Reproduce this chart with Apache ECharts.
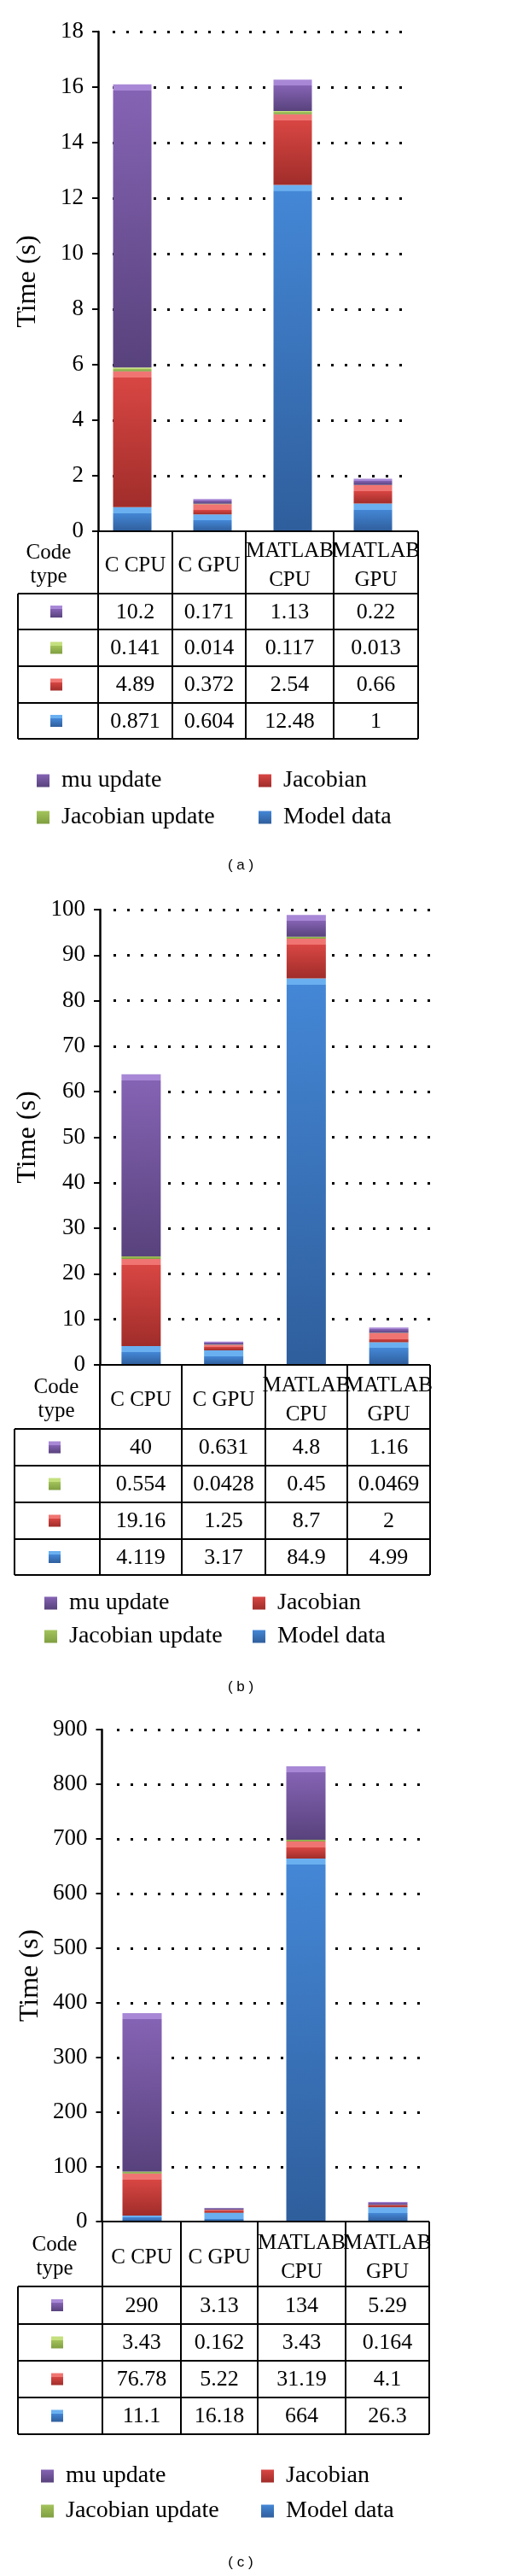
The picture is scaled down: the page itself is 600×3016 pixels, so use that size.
<!DOCTYPE html>
<html><head><meta charset="utf-8">
<script src="https://cdn.jsdelivr.net/npm/echarts@6/dist/echarts.min.js"></script>
<style>html,body{margin:0;padding:0;background:#fff}#c{width:600px;height:3016px}</style>
</head><body><div id="c"></div>
<script>
// ---------- data ----------
const categories = ['C CPU', 'C GPU', 'MATLAB\nCPU', 'MATLAB\nGPU'];
const seriesNames = ['Model data', 'Jacobian', 'Jacobian update', 'mu update'];
const tableHeader = 'Code\ntype';
const captions = ['( a )', '( b )', '( c )'];
const yAxisName = 'Time (s)';

// panel (a)
const aModel = [0.871, 0.604, 12.48, 1];
const aJacobian = [4.89, 0.372, 2.54, 0.66];
const aJacUpdate = [0.141, 0.014, 0.117, 0.013];
const aMuUpdate = [10.2, 0.171, 1.13, 0.22];
const aAxis = { max: 18, interval: 2 };

// panel (b)
const bModel = [4.119, 3.17, 84.9, 4.99];
const bJacobian = [19.16, 1.25, 8.7, 2];
const bJacUpdate = [0.554, 0.0428, 0.45, 0.0469];
const bMuUpdate = [40, 0.631, 4.8, 1.16];
const bAxis = { max: 100, interval: 10 };

// panel (c)
const cModel = [11.1, 16.18, 664, 26.3];
const cJacobian = [76.78, 5.22, 31.19, 4.1];
const cJacUpdate = [3.43, 0.162, 3.43, 0.164];
const cMuUpdate = [290, 3.13, 134, 5.29];
const cAxis = { max: 900, interval: 100 };

const panels = [
  { axis: aAxis, vals: [aModel, aJacobian, aJacUpdate, aMuUpdate] },
  { axis: bAxis, vals: [bModel, bJacobian, bJacUpdate, bMuUpdate] },
  { axis: cAxis, vals: [cModel, cJacobian, cJacUpdate, cMuUpdate] }
];

// ---------- layout ----------
const layouts = [
  { top: 37, zero: 622, gridLeft: 108, gridW: 376, axisOffset: -7, barW: 45, dotL: 132, dotR: 478,
    cols: [115, 202, 288, 391, 490], tableLeft: 21, rows: [695, 737, 780, 823, 865], codeX: 57, iconX: 66,
    legY: [917, 960], legX: [43, 303], cap: 1013 },
  { top: 1065, zero: 1598, gridLeft: 117, gridW: 387, axisOffset: 0, barW: 46, dotL: 133, dotR: 506,
    cols: [117, 213, 311, 407, 504], tableLeft: 17, rows: [1673, 1716, 1759, 1802, 1844], codeX: 66, iconX: 64,
    legY: [1880, 1919], legX: [52, 296], cap: 1975 },
  { top: 2025, zero: 2601, gridLeft: 118.5, gridW: 384, axisOffset: -1, barW: 46, dotL: 137, dotR: 498,
    cols: [120, 212, 302, 405, 503], tableLeft: 21, rows: [2677, 2721, 2764, 2807, 2850], codeX: 64, iconX: 67,
    legY: [2902, 2943], legX: [48, 306], cap: 3000 }
];

const SERIF = '"Liberation Serif", "Times New Roman", serif';
// [bevel highlight, top, bottom]
const COLORS = {
  'Model data': ['#6AB0F0', '#4487D6', '#2F5E9C'],
  'Jacobian': ['#F07572', '#D84643', '#A02D2A'],
  'Jacobian update': ['#C4E07E', '#A4C45C', '#7F9E40'],
  'mu update': ['#A888D6', '#8563B4', '#58427C']
};
function grad(c, frac) {
  const stops = [];
  if (frac > 0) {
    stops.push({ offset: 0, color: c[0] }, { offset: frac, color: c[0] }, { offset: Math.min(frac + 0.001, 1), color: c[1] });
  } else {
    stops.push({ offset: 0, color: c[1] });
  }
  stops.push({ offset: 1, color: c[2] });
  return new echarts.graphic.LinearGradient(0, 0, 0, 1, stops);
}

const chart = echarts.init(document.getElementById('c'), null, { renderer: 'canvas', width: 600, height: 3016 });

const grid = [], xAxis = [], yAxis = [], series = [], legend = [], graphic = [];

panels.forEach((P, pi) => {
  const L = layouts[pi];
  const h = L.zero - L.top;
  const pxPerUnit = h / P.axis.max;
  grid.push({ left: L.gridLeft, top: L.top, width: L.gridW, height: h });
  grid.push({ left: L.dotL, top: L.top, width: L.dotR - L.dotL, height: h });
  const gi = pi * 2;
  xAxis.push({ type: 'category', gridIndex: gi, data: categories, axisLine: { show: false },
    axisTick: { show: false }, axisLabel: { show: false } });
  xAxis.push({ type: 'category', gridIndex: gi + 1, data: categories, show: false });
  yAxis.push({
    type: 'value', gridIndex: gi, min: 0, max: P.axis.max, interval: P.axis.interval, offset: L.axisOffset,
    name: yAxisName, nameLocation: 'middle', nameRotate: 90, nameGap: 66,
    nameTextStyle: { fontFamily: SERIF, fontSize: 32, color: '#000' },
    axisLine: { show: true, lineStyle: { color: '#000', width: 2.5 } },
    axisTick: { show: true, length: 7, lineStyle: { color: '#000', width: 2 } },
    axisLabel: { fontFamily: SERIF, fontSize: 27, color: '#000', margin: 17 },
    splitLine: { show: false }
  });
  yAxis.push({
    type: 'value', gridIndex: gi + 1, min: 0, max: P.axis.max, interval: P.axis.interval,
    axisLine: { show: false }, axisTick: { show: false }, axisLabel: { show: false },
    splitLine: { show: true, showMinLine: false, lineStyle: { color: '#000', width: 3, type: [3, 13] } }
  });
  seriesNames.forEach((name, si) => {
    series.push({
      type: 'bar', name: name, stack: 'p' + pi, xAxisIndex: gi, yAxisIndex: gi,
      barWidth: L.barW, z: 3,
      data: P.vals[si].map(v => {
        const hp = v * pxPerUnit;
        const frac = hp > 10 ? 7 / hp : (hp > 3 ? 0.35 : 0);
        return { value: v, itemStyle: { color: grad(COLORS[name], frac) } };
      }),
      itemStyle: { color: grad(COLORS[name], 0) },
      emphasis: { disabled: true }
    });
  });

  const legendLayout = [['mu update', 0, 0], ['Jacobian update', 0, 1], ['Jacobian', 1, 0], ['Model data', 1, 1]];
  legendLayout.forEach(([name, c, r]) => {
    legend.push({
      data: [name], left: L.legX[c], top: L.legY[r] - 17, padding: 0, icon: 'rect',
      itemWidth: 15, itemHeight: 15, selectedMode: false,
      textStyle: { fontFamily: SERIF, fontSize: 28, color: '#000', padding: [0, 0, 0, 9] }
    });
  });

  const right = L.cols[4], last = L.rows[4];
  const line = (x1, y1, x2, y2) => graphic.push({ type: 'line', z: 50,
    shape: { x1: x1, y1: y1, x2: x2, y2: y2 }, style: { stroke: '#000', lineWidth: 2 } });
  line(L.cols[0] - 7, L.zero, right, L.zero);
  L.rows.forEach(y => line(L.tableLeft, y, right, y));
  L.cols.forEach(x => line(x, L.zero, x, last));
  line(L.tableLeft, L.rows[0], L.tableLeft, last);

  const txt = (s, x, y, size, lh) => graphic.push({ type: 'text', x: x, y: y, z: 50,
    style: { text: s, fill: '#000', font: size + 'px ' + SERIF, align: 'center', verticalAlign: 'middle', lineHeight: lh || size } });

  const hc = (L.zero + L.rows[0]) / 2;
  txt(tableHeader, L.codeX, hc + 3, 25, 28);
  categories.forEach((c, ci) => txt(c, (L.cols[ci] + L.cols[ci + 1]) / 2, hc + 4, 25, 34));

  const rowOrder = [3, 2, 1, 0];
  rowOrder.forEach((si, ri) => {
    const yc = (L.rows[ri] + L.rows[ri + 1]) / 2;
    graphic.push({ type: 'rect', z: 50, shape: { x: L.iconX - 7, y: yc - 7, width: 14, height: 14 },
      style: { fill: grad(COLORS[seriesNames[si]], 0.3) } });
    P.vals[si].forEach((v, ci) => txt(String(v), (L.cols[ci] + L.cols[ci + 1]) / 2, yc + 1, 26));
  });

  graphic.push({ type: 'text', x: 282, y: L.cap, z: 50,
    style: { text: captions[pi], fill: '#000', font: '17px "Liberation Sans", Arial, sans-serif', align: 'center', verticalAlign: 'middle' } });
});

chart.setOption({
  animation: false,
  backgroundColor: '#fff',
  grid: grid, xAxis: xAxis, yAxis: yAxis, series: series, legend: legend, graphic: graphic
});
</script></body></html>
